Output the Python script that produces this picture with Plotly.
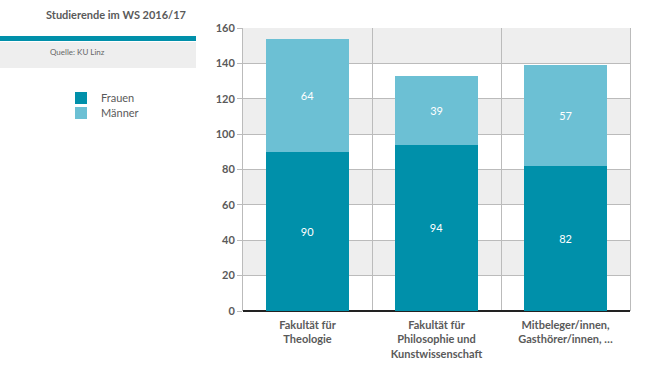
import plotly.graph_objects as go

categories = ["Fakultät für<br>Theologie", "Fakultät für<br>Philosophie und<br>Kunstwissenschaft",
              "Mitbeleger/innen,<br>Gasthörer/innen, …"]
frauen = [90, 94, 82]
maenner = [64, 39, 57]
y_ticks = [0, 20, 40, 60, 80, 100, 120, 140, 160]

W, H = 645, 370
L, R, T, B = 243, 15, 28, 59
pw = W - L - R
ph = H - T - B

def px(x):
    return (x - L) / pw

def py(y):
    return (H - B - y) / ph

FONT = "Lato"
C_F = "#0090aa"
C_M = "#6cc0d4"
TXT = "#5a5a5a"

fig = go.Figure()
fig.add_bar(x=categories, y=frauen, name="Frauen", marker=dict(color=C_F, line=dict(width=0)),
            text=frauen, textposition="inside", insidetextanchor="middle", legend="legend",
            textfont=dict(color="white", size=11, family=FONT))
fig.add_bar(x=categories, y=maenner, name="Männer", marker=dict(color=C_M, line=dict(width=0)),
            text=maenner, textposition="inside", insidetextanchor="middle", legend="legend2",
            textfont=dict(color="white", size=11, family=FONT))

shapes = []
for i in range(0, len(y_ticks) - 1):
    if i % 2 == 1:
        shapes.append(dict(type="rect", xref="paper", yref="y", x0=0, x1=1,
                           y0=y_ticks[i], y1=y_ticks[i + 1], fillcolor="#eeeeee",
                           line=dict(width=0), layer="below"))
shapes.append(dict(type="rect", xref="paper", yref="paper", x0=px(0), x1=px(196),
                   y0=py(41), y1=py(36), fillcolor="#0090aa", line=dict(width=0)))
shapes.append(dict(type="rect", xref="paper", yref="paper", x0=px(0), x1=px(196),
                   y0=py(68), y1=py(42), fillcolor="#eeeeee", line=dict(width=0)))

annotations = [
    dict(text="<b>Studierende im WS 2016/17</b>", xref="paper", yref="paper",
         x=px(188), y=py(15), xanchor="right", yanchor="middle", showarrow=False,
         font=dict(family=FONT, size=11, color=TXT)),
    dict(text="Quelle: KU Linz", xref="paper", yref="paper",
         x=px(48), y=py(52), xanchor="left", yanchor="middle", showarrow=False,
         font=dict(family=FONT, size=8, color="#666666")),
]

leg_common = dict(xref="container", yref="container", xanchor="left", yanchor="middle",
                  font=dict(family=FONT, size=11, color=TXT), itemwidth=30,
                  bgcolor="rgba(0,0,0,0)", borderwidth=0)

fig.update_layout(
    width=W, height=H,
    margin=dict(l=L, r=R, t=T, b=B, autoexpand=False),
    barmode="stack",
    bargap=0.35,
    plot_bgcolor="white",
    paper_bgcolor="white",
    font=dict(family=FONT, color=TXT),
    shapes=shapes,
    annotations=annotations,
    legend=dict(x=61 / W, y=1 - 98 / H, **leg_common),
    legend2=dict(x=61 / W, y=1 - 113 / H, **leg_common),
    showlegend=True,
    uniformtext=dict(minsize=8, mode="show"),
)
fig.update_yaxes(range=[0, 160], tickvals=y_ticks, ticktext=[f"<b>{v}</b>" for v in y_ticks],
                 showgrid=True, gridcolor="#bbbbbb", automargin=False,
                 gridwidth=1, ticks="outside", ticklen=5, tickcolor="#bbbbbb",
                 tickfont=dict(family=FONT, size=11, color=TXT),
                 zeroline=True, zerolinecolor="#222222", zerolinewidth=1.5,
                 showline=True, linecolor="#bbbbbb", linewidth=1, mirror=True)
fig.update_xaxes(tickson="boundaries", showgrid=True, gridcolor="#bbbbbb", gridwidth=1,
                 automargin=False, tickvals=categories, ticklabelstandoff=6,
                 ticktext=[f"<b>{c.replace('<br>', '</b><br><b>')}</b>" for c in categories],
                 ticks="", tickfont=dict(family=FONT, size=11, color=TXT),
                 showline=False)

fig.write_html("out.html", config={"displayModeBar": False},
               post_script="document.body.style.margin='0';document.body.style.padding='0';")
